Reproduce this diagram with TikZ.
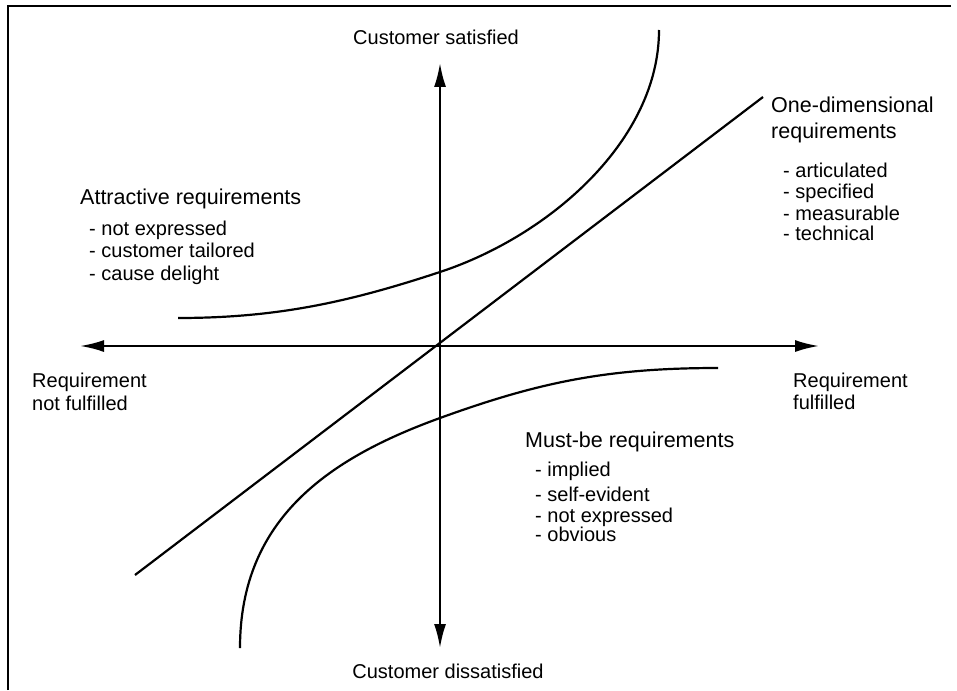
\documentclass[tikz,border=0pt]{standalone}
\usepackage{fontspec}
\setmainfont{Liberation Sans}
\usetikzlibrary{arrows.meta}
\begin{document}
\begin{tikzpicture}[x=1pt,y=-1pt,
  lbl/.style={anchor=base west, inner sep=0pt, font=\fontsize{20}{24}\selectfont},
  hd/.style={anchor=base west, inner sep=0pt, font=\fontsize{21.5}{26}\selectfont},
  ctr/.style={anchor=base, inner sep=0pt, font=\fontsize{20}{24}\selectfont},
  curve/.style={line width=2.2pt, line join=round},
  axis/.style={line width=2.2pt, -{Latex[length=24pt,width=12pt]}}]
\useasboundingbox (0,0) rectangle (957,690);
% frame
\draw[line width=2.6pt] (8,690) -- (8,6) -- (951,6);
% axes
\coordinate (o) at (440,346);
\coordinate (top) at (440,63);
\coordinate (bot) at (440,648);
\coordinate (lft) at (80,346);
\coordinate (rgt) at (819,346);
\draw[axis] (o) -- (top);
\draw[axis] (o) -- (bot);
\draw[axis] (o) -- (lft);
\draw[axis] (o) -- (rgt);
% one-dimensional line
\coordinate (d1) at (135,575);
\coordinate (d2) at (763,97);
\draw[curve] (d1) -- (d2);
% attractive curve
\coordinate (a0) at (178,318);
\coordinate (a1) at (440,272);
\coordinate (a2) at (659,30);
\draw[curve] (a0) .. controls (278,318) and (350,301.7) .. (a1)
  .. controls (550,235.7) and (659,140) .. (a2);
% must-be curve
\coordinate (m0) at (718,368);
\coordinate (m1) at (440,418);
\coordinate (m2) at (240,648);
\draw[curve] (m0) .. controls (608,368) and (540,381.75) .. (m1)
  .. controls (330,457.9) and (240,518) .. (m2);
% axis labels
\node[ctr] (sat) at (436,45) {Customer satisfied};
\node[ctr] (dis) at (448,678) {Customer dissatisfied};
\node[lbl] (nf1) at (32,387) {Requirement};
\node[lbl] (nf2) at (32,410) {not fulfilled};
\node[lbl] (f1) at (793,387) {Requirement};
\node[lbl] (f2) at (793,409) {fulfilled};
% attractive
\node[hd] (att) at (80,204) {Attractive requirements};
\node[lbl] (att1) at (89,235) {- not expressed};
\node[lbl] (att2) at (89,257) {- customer tailored};
\node[lbl] (att3) at (89,280) {- cause delight};
% one-dimensional
\node[hd] (one1) at (771,113) {One-dimensional};
\node[hd] (one2) at (771,139) {requirements};
\node[lbl] (one3) at (783,177) {- articulated};
\node[lbl] (one4) at (783,198) {- specified};
\node[lbl] (one5) at (783,220) {- measurable};
\node[lbl] (one6) at (783,240) {- technical};
% must-be
\node[hd] (must) at (525,447) {Must-be requirements};
\node[lbl] (must1) at (535,476) {- implied};
\node[lbl] (must2) at (535,501) {- self-evident};
\node[lbl] (must3) at (535,522) {- not expressed};
\node[lbl] (must4) at (535,541) {- obvious};
\end{tikzpicture}
\end{document}
